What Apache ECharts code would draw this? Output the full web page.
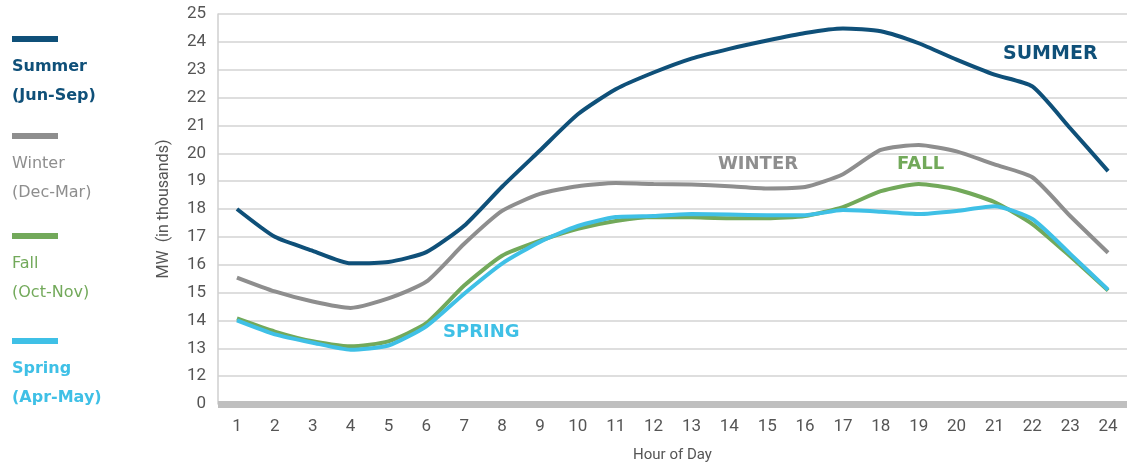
<!DOCTYPE html>
<html>
<head>
<meta charset="utf-8">
<script src="https://cdn.jsdelivr.net/npm/echarts@6/dist/echarts.min.js"></script>
<style>
  html, body { margin: 0; padding: 0; background: #fff; }
  #chart { width: 1141px; height: 468px; }
</style>
</head>
<body>
<div id="chart"></div>
<script>
// hours of the day
var hours = ["1","2","3","4","5","6","7","8","9","10","11","12","13","14","15","16","17","18","19","20","21","22","23","24"];
// MW (in thousands)
var summer = [18.0, 17.0, 16.5, 16.05, 16.1, 16.45, 17.4, 18.8, 20.1, 21.4, 22.3, 22.9, 23.4, 23.75, 24.05, 24.32, 24.48, 24.38, 23.95, 23.36, 22.82, 22.4, 20.9, 19.36];
var winter = [15.54, 15.04, 14.68, 14.45, 14.79, 15.39, 16.75, 17.93, 18.54, 18.82, 18.93, 18.9, 18.88, 18.82, 18.74, 18.79, 19.25, 20.12, 20.3, 20.07, 19.6, 19.14, 17.75, 16.43];
var fall = [14.07, 13.6, 13.25, 13.07, 13.25, 13.9, 15.25, 16.32, 16.86, 17.29, 17.57, 17.71, 17.7, 17.67, 17.67, 17.75, 18.07, 18.64, 18.9, 18.7, 18.25, 17.46, 16.3, 15.07];
var spring = [14.0, 13.5, 13.2, 12.95, 13.1, 13.79, 14.96, 16.04, 16.82, 17.39, 17.71, 17.75, 17.82, 17.8, 17.78, 17.78, 17.96, 17.9, 17.82, 17.93, 18.1, 17.64, 16.39, 15.1];

var cSummer = "#0f5079";
var cWinter = "#8e8e8e";
var cFall = "#72a95a";
var cSpring = "#3fc0e6";
var axisFont = "Roboto";

var chart = echarts.init(document.getElementById("chart"));

function legendItem(y, color, l1, l2, weight) {
  return [
    { type: "rect", left: 12, top: y, shape: { width: 46, height: 6 }, style: { fill: color } },
    { type: "text", left: 12, top: y + 23, style: { text: l1, fill: color, font: weight + " 16px 'DejaVu Sans'" } },
    { type: "text", left: 12, top: y + 52, style: { text: l2, fill: color, font: weight + " 16px 'DejaVu Sans'" } }
  ];
}

function lineSeries(name, data, color) {
  return {
    name: name,
    type: "line",
    data: data,
    smooth: 0.2,
    showSymbol: false,
    lineStyle: { color: color, width: 4 },
    itemStyle: { color: color },
    z: 3
  };
}

var option = {
  animation: false,
  grid: { left: 218, right: 14, top: 14, bottom: 60 },
  xAxis: {
    type: "category",
    data: hours,
    boundaryGap: true,
    name: "Hour of Day",
    nameLocation: "middle",
    nameGap: 44,
    nameTextStyle: { color: "#555", fontSize: 15, fontFamily: axisFont },
    axisLine: { show: true, lineStyle: { color: "#bfbfbf", width: 7, cap: "butt" } },
    axisTick: { show: false },
    axisLabel: { color: "#555", fontSize: 17, margin: 14, fontFamily: axisFont }
  },
  yAxis: {
    type: "value",
    min: 11,
    max: 25,
    interval: 1,
    name: "MW  (in thousands)",
    nameLocation: "middle",
    nameGap: 46,
    nameTextStyle: { color: "#555", fontSize: 16, fontFamily: axisFont },
    axisLine: { show: true, lineStyle: { color: "#cfcfcf", width: 1.5 } },
    axisTick: { show: false },
    axisLabel: {
      color: "#555",
      fontSize: 17,
      margin: 12,
      fontFamily: axisFont,
      formatter: function (v) { return v === 11 ? "0" : String(v); }
    },
    splitLine: { show: true, lineStyle: { color: "#d3d3d3", width: 1.5 } }
  },
  series: [
    lineSeries("Winter", winter, cWinter),
    lineSeries("Fall", fall, cFall),
    lineSeries("Spring", spring, cSpring),
    lineSeries("Summer", summer, cSummer)
  ],
  graphic: [].concat(
    legendItem(36, cSummer, "Summer", "(Jun-Sep)", "bold"),
    legendItem(133, cWinter, "Winter", "(Dec-Mar)", "normal"),
    legendItem(233, cFall, "Fall", "(Oct-Nov)", "normal"),
    legendItem(338, cSpring, "Spring", "(Apr-May)", "bold"),
    [
      { type: "text", left: 1003, top: 45, style: { text: "SUMMER", fill: cSummer, font: "bold 19px 'DejaVu Sans'" } },
      { type: "text", left: 718, top: 155, style: { text: "WINTER", fill: cWinter, font: "bold 18px 'DejaVu Sans'" } },
      { type: "text", left: 897, top: 155, style: { text: "FALL", fill: cFall, font: "bold 18px 'DejaVu Sans'" } },
      { type: "text", left: 443, top: 323, style: { text: "SPRING", fill: cSpring, font: "bold 18px 'DejaVu Sans'" } }
    ]
  )
};

chart.setOption(option);
</script>
</body>
</html>
